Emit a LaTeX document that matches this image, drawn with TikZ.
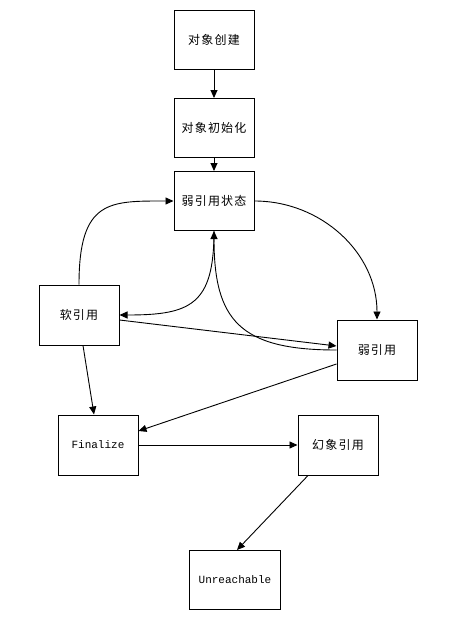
\documentclass[tikz,border=0pt]{standalone}
\usepackage{fontspec}
\newfontfamily\cjk[LetterSpace=10]{Noto Sans CJK SC}
\newfontfamily\monof{Liberation Mono}
\usetikzlibrary{arrows.meta}
\tikzset{
  box/.style={draw, line width=1pt, minimum width=80pt, minimum height=59pt, inner sep=0pt, font=\cjk\fontsize{12pt}{14pt}\selectfont},
  mbox/.style={box, font=\monof\fontsize{11pt}{13pt}\selectfont},
  arr/.style={draw, line width=0.9pt, -{Triangle[length=8pt,width=7pt]}},
  ln/.style={draw, line width=0.9pt}
}
\begin{document}
\begin{tikzpicture}[x=1pt,y=-1pt]
\useasboundingbox (0,0) rectangle (467,630);
\node[box] (c1) at (214,40) {对象创建};
\node[box] (c2) at (214,128) {对象初始化};
\node[box] (ws) at (214,201) {弱引用状态};
\node[box, minimum height=60pt] (soft) at (79,315) {软引用};
\node[box, minimum height=60pt] (weak) at (377,350) {弱引用};
\node[mbox, minimum height=60pt] (fin) at (98,445) {Finalize};
\node[box, minimum height=60pt] (ph) at (338,445) {幻象引用};
\node[mbox, minimum width=91pt] (un) at (235,580) {Unreachable};

\draw[arr] (c1.south) -- (c2.north);
\draw[arr] (c2.south) -- (ws.north);
\draw[arr] (soft.north) .. controls ([yshift=85pt]soft.north) and ([xshift=-64pt]ws.west) .. (ws.west);
\draw[arr] (ws.east) to[out=0,in=90] (weak.north);
\draw[arr] (ws.south) .. controls ([yshift=-74pt]ws.south) and ([xshift=71pt]soft.east) .. (soft.east);
\draw[arr] (weak.west) .. controls ([xshift=-97pt]weak.west) and ([yshift=-89pt]ws.south) .. (ws.south);
\draw[arr] ([yshift=-5pt]soft.east) -- ([yshift=4pt]weak.west);
\draw[arr] ([xshift=4pt]soft.south) -- ([xshift=-4pt]fin.north);
\draw[arr] ([yshift=-14pt]weak.west) -- ([yshift=14pt]fin.east);
\draw[arr] (fin.east) -- (ph.west);
\draw[arr] ([xshift=-30pt]ph.south) -- ([xshift=2pt]un.north);
\end{tikzpicture}
\end{document}
